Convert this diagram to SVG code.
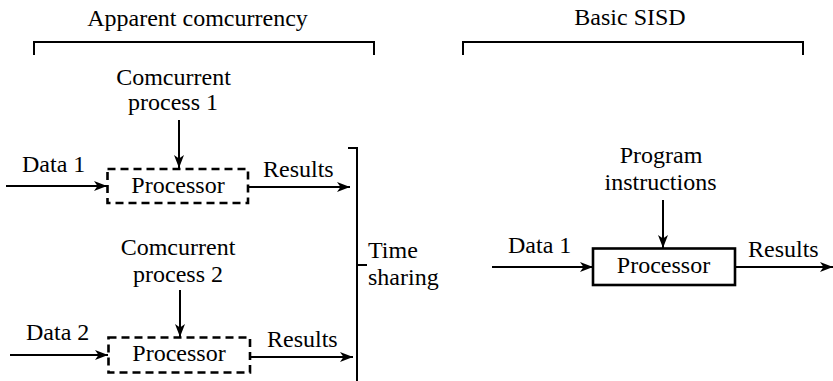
<svg xmlns="http://www.w3.org/2000/svg" width="833" height="381" viewBox="0 0 833 381">
<style>
text{font-family:"Liberation Serif","Times New Roman",serif;font-size:24px;fill:#000}
.c{text-anchor:middle}
.ln{stroke:#000;stroke-width:2;fill:none}
.br{stroke:#000;stroke-width:2;fill:none}
.dbox{stroke:#000;stroke-width:2.6;fill:#fff;stroke-dasharray:8 5}
.sbox{stroke:#000;stroke-width:2.6;fill:#fff}
</style>
<defs>
<marker id="ah" markerUnits="userSpaceOnUse" markerWidth="14" markerHeight="12" refX="13" refY="5" orient="auto">
<path d="M0,0 L13,5 L0,10 L3.5,5 z" fill="#000"/>
</marker>
</defs>
<g id="labels">
<text class="c" x="197.5" y="26">Apparent comcurrency</text>
<text class="c" x="630" y="25">Basic SISD</text>
<path class="br" d="M34,55 V42 H374 V55"/>
<path class="br" d="M463,55 V42 H803 V55"/>
</g>
<g id="connectors">
<line class="ln" x1="179" y1="120" x2="179" y2="168" marker-end="url(#ah)"/>
<line class="ln" x1="6" y1="186" x2="107" y2="186" marker-end="url(#ah)"/>
<line class="ln" x1="248" y1="187" x2="350" y2="187" marker-end="url(#ah)"/>
<line class="ln" x1="180" y1="290" x2="180" y2="337" marker-end="url(#ah)"/>
<line class="ln" x1="10" y1="355" x2="108" y2="355" marker-end="url(#ah)"/>
<line class="ln" x1="250" y1="357" x2="353" y2="357" marker-end="url(#ah)"/>
<line class="ln" x1="663" y1="200" x2="663" y2="248" marker-end="url(#ah)"/>
<line class="ln" x1="492" y1="267" x2="593" y2="267" marker-end="url(#ah)"/>
<line class="ln" x1="735" y1="267" x2="833" y2="267" marker-end="url(#ah)"/>
<path class="br" d="M348,148 H357 V381"/>
<path class="br" d="M357,265 H367"/>
<text x="22" y="172">Data 1</text>
<text x="263" y="177">Results</text>
<text x="26" y="340">Data 2</text>
<text x="267" y="347">Results</text>
<text x="508" y="253">Data 1</text>
<text x="748" y="257">Results</text>
</g>
<g id="proc1">
<rect class="dbox" x="107.5" y="169" width="140.5" height="34"/>
<text class="c" x="178" y="193">Processor</text>
</g>
<g id="cp1">
<text class="c" x="173.5" y="85">Comcurrent</text>
<text class="c" x="173" y="110">process 1</text>
</g>
<g id="proc2">
<rect class="dbox" x="108.5" y="337.5" width="141.5" height="35"/>
<text class="c" x="179" y="361">Processor</text>
</g>
<g id="cp2">
<text class="c" x="178" y="255">Comcurrent</text>
<text class="c" x="178" y="282">process 2</text>
</g>
<g id="timesharing">
<text x="368" y="258">Time</text>
<text x="368" y="285">sharing</text>
</g>
<g id="proc3">
<rect class="sbox" x="593" y="248.5" width="142" height="36.5"/>
<text class="c" x="663.5" y="273">Processor</text>
</g>
<g id="prog">
<text class="c" x="661" y="163">Program</text>
<text class="c" x="660.5" y="190">instructions</text>
</g>
</svg>
